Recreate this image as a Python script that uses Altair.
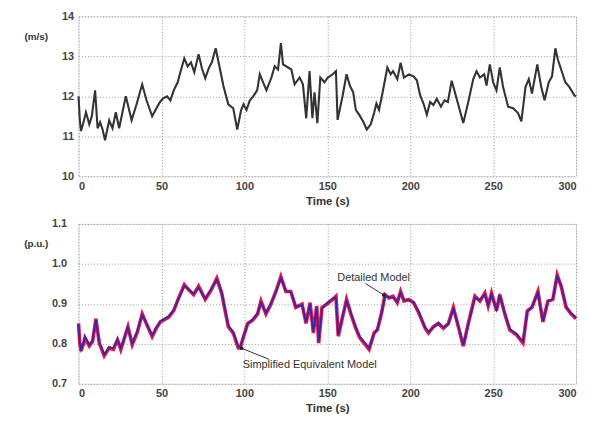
import altair as alt
import pandas as pd

# ---------------- data ----------------
wind_t = [0, 0.8, 1.5, 3, 4.5, 6.5, 8, 10, 11.5, 13, 14.5, 16, 18.5, 20.5, 22.5, 24.5, 26.5, 28.5, 30, 32,
          35, 38.4, 41, 44.4, 47, 49, 51, 53.4, 55.4, 57.4, 59.8, 61.4, 63.8, 65.8, 67.8, 69.8, 72.4, 74.4,
          76.4, 78.5, 80.4, 82.7, 84.7, 87.3, 90.3, 93.3, 95.7, 98, 99.5, 101.3, 103.3, 105.3, 107.7, 109.3,
          111.3, 113.3, 116.3, 118.3, 120.3, 122, 123.3, 125.3, 128.3, 130.3, 133.3, 135.3, 137.3, 139.3,
          141, 142.3, 144, 145.8, 148.3, 150.3, 153.3, 155.2, 156.2, 159.2, 161.6, 163.6, 165.6, 167.2,
          169.2, 171.6, 173.8, 176.2, 178.2, 179.6, 181.2, 183.6, 186.2, 188.2, 189.6, 192.2, 194.2, 196.2,
          199.2, 202, 204, 206, 208, 210, 212, 214, 216, 218.5, 220.7, 222.7, 225, 228, 232, 235, 238, 240,
          242, 244.6, 246, 248, 250, 252, 254, 256, 259, 262, 265, 267, 269.5, 271.5, 273.4, 276.6, 279,
          281, 283.5, 285.5, 287.5, 289, 291, 293.5, 296, 299, 300]
wind_v = [12.0, 11.4, 11.13, 11.35, 11.6, 11.3, 11.5, 12.15, 11.2, 11.35, 11.17, 10.9, 11.4, 11.2, 11.6, 11.2,
          11.6, 12.0, 11.75, 11.4, 11.8, 12.3, 11.9, 11.5, 11.7, 11.85, 11.95, 12.0, 11.9, 12.15, 12.35, 12.6,
          12.95, 12.75, 12.85, 12.6, 13.05, 12.7, 12.45, 12.7, 12.85, 13.2, 12.8, 12.27, 11.8, 11.7, 11.17,
          11.65, 11.8, 11.66, 11.9, 12.0, 12.15, 12.55, 12.35, 12.15, 12.47, 12.75, 12.67, 13.33, 12.8, 12.75,
          12.67, 12.3, 12.47, 12.3, 11.45, 12.63, 11.45, 12.1, 11.33, 12.47, 12.35, 12.47, 12.55, 12.63, 11.41,
          12.0, 12.55, 12.27, 12.1, 11.66, 11.54, 11.37, 11.17, 11.3, 11.58, 11.82, 11.66, 12.15, 12.72, 12.55,
          12.63, 12.43, 12.84, 12.47, 12.55, 12.5, 12.4, 12.02, 11.82, 11.54, 11.86, 11.78, 11.94, 11.74, 11.9,
          11.86, 12.39, 11.94, 11.33, 11.86, 12.43, 12.63, 12.47, 12.55, 12.27, 12.8, 12.35, 12.15, 12.72,
          12.23, 11.74, 11.7, 11.58, 11.37, 12.23, 12.43, 12.07, 12.8, 12.23, 11.9, 12.35, 12.5, 13.2, 12.92,
          12.67, 12.35, 12.23, 12.02, 12.0]

pow_t = [0, 0.8, 1.5, 3, 3.9, 6.5, 8.5, 10.5, 12.5, 15.5, 18.5, 21, 23.5, 25.5, 29.8, 32.4, 35.5, 38.4, 41.5,
         44.4, 47, 49.4, 54.4, 57.4, 60.4, 63.8, 66.4, 69.4, 72.4, 76.4, 80, 83.4, 86.3, 90.3, 93.3, 96.3, 97.5,
         99.3, 102, 105, 108, 110, 113, 116, 119, 122, 125, 128, 131, 134.8, 137.2, 139.6, 141.6, 143.6, 144.8,
         146.8, 149.6, 153.2, 155.2, 156.6, 159.2, 161.6, 164.2, 167.2, 169.6, 172.2, 175.2, 178.2, 180.2,
         182.8, 184.8, 187.2, 189.6, 192.2, 194.2, 196.2, 199.2, 202, 205, 209, 211, 214, 217, 220, 223, 226,
         229, 232, 235, 239, 242, 245, 247, 249, 252, 254, 257, 260, 264, 268, 270.6, 273.4, 277, 280, 283,
         286, 288.6, 291, 294, 297, 300]
pow_simplified = [0.851, 0.80, 0.782, 0.80, 0.815, 0.795, 0.806, 0.863, 0.802, 0.77, 0.79, 0.786, 0.81, 0.786,
                  0.843, 0.798, 0.83, 0.875, 0.845, 0.818, 0.84, 0.855, 0.867, 0.883, 0.915, 0.948, 0.935,
                  0.923, 0.944, 0.911, 0.935, 0.964, 0.927, 0.843, 0.827, 0.79, 0.79, 0.815, 0.851, 0.859,
                  0.875, 0.907, 0.875, 0.899, 0.931, 0.968, 0.931, 0.931, 0.891, 0.899, 0.851, 0.903, 0.827,
                  0.895, 0.802, 0.891, 0.899, 0.911, 0.919, 0.819, 0.867, 0.911, 0.875, 0.839, 0.815, 0.802,
                  0.786, 0.827, 0.835, 0.879, 0.923, 0.915, 0.919, 0.903, 0.931, 0.907, 0.911, 0.903, 0.879,
                  0.839, 0.827, 0.843, 0.851, 0.839, 0.851, 0.891, 0.843, 0.794, 0.851, 0.919, 0.907, 0.927,
                  0.895, 0.927, 0.883, 0.923, 0.875, 0.835, 0.823, 0.802, 0.883, 0.891, 0.931, 0.855, 0.907,
                  0.911, 0.972, 0.944, 0.891, 0.875, 0.863]
pow_detailed = [0.848, 0.803, 0.785, 0.802, 0.818, 0.797, 0.809, 0.860, 0.805, 0.773, 0.792, 0.789, 0.812, 0.789,
                0.840, 0.801, 0.832, 0.872, 0.847, 0.821, 0.842, 0.857, 0.869, 0.885, 0.913, 0.945, 0.937,
                0.925, 0.941, 0.913, 0.937, 0.961, 0.929, 0.846, 0.829, 0.793, 0.792, 0.817, 0.849, 0.861,
                0.877, 0.904, 0.877, 0.901, 0.929, 0.965, 0.933, 0.929, 0.893, 0.897, 0.854, 0.900, 0.830,
                0.892, 0.805, 0.889, 0.901, 0.913, 0.916, 0.822, 0.869, 0.908, 0.877, 0.841, 0.818, 0.805,
                0.789, 0.825, 0.837, 0.877, 0.920, 0.917, 0.916, 0.905, 0.928, 0.909, 0.909, 0.905, 0.881,
                0.841, 0.830, 0.841, 0.853, 0.841, 0.849, 0.888, 0.845, 0.797, 0.849, 0.916, 0.909, 0.924,
                0.897, 0.924, 0.885, 0.920, 0.877, 0.837, 0.825, 0.805, 0.880, 0.893, 0.928, 0.857, 0.905,
                0.913, 0.969, 0.946, 0.893, 0.877, 0.865]

x_ticks = [0, 50, 100, 150, 200, 250, 300]
wind_ticks = [10, 11, 12, 13, 14]
pow_ticks = [0.7, 0.8, 0.9, 1.0, 1.1]

ann_labels = ["Detailed Model", "Simplified Equivalent Model"]
ann_text_t = [156, 99]
ann_text_v = [0.965, 0.746]
ann_from_t = [173, 115]
ann_from_v = [0.951, 0.761]
ann_to_t = [184, 98.3]
ann_to_v = [0.922, 0.789]

FONT = "Liberation Sans"

wind_df = pd.DataFrame({"t": wind_t, "v": wind_v})
pow_df = pd.DataFrame({"t": pow_t, "simp": pow_simplified, "det": pow_detailed})
ann_df = pd.DataFrame({"label": ann_labels, "tt": ann_text_t, "tv": ann_text_v,
                       "ft": ann_from_t, "fv": ann_from_v, "et": ann_to_t, "ev": ann_to_v})


def x_axis():
    return alt.Axis(values=x_ticks, title="Time (s)", grid=True, gridDash=[1, 2], gridColor="#9a9a9a",
                    domain=False, ticks=False, labelFont=FONT, labelFontSize=11, labelFontWeight="bold",
                    labelColor="#444", labelPadding=4, titleFont=FONT, titleFontSize=11.5,
                    titleFontWeight="bold", titleColor="#333", titlePadding=4)


def y_axis(vals, title, fmt, pad):
    return alt.Axis(values=vals, title=title, format=fmt, grid=True, gridDash=[1, 2], gridColor="#9a9a9a",
                    domain=False, ticks=False, labelFont=FONT, labelFontSize=11, labelFontWeight="bold",
                    labelColor="#444", labelPadding=pad, titleFont=FONT, titleFontSize=10,
                    titleFontWeight="bold", titleColor="#333", titleAngle=0, titleAlign="center",
                    titleBaseline="middle", titleX=-43, titleY=20)


xs = alt.Scale(domain=[0, 300], nice=False)

top = alt.Chart(wind_df).mark_line(color="#333333", strokeWidth=2.1).encode(
    x=alt.X("t:Q", scale=xs, axis=x_axis()),
    y=alt.Y("v:Q", scale=alt.Scale(domain=[10, 14], nice=False), axis=y_axis(wind_ticks, "(m/s)", "d", 5)),
).properties(width=501, height=161)

ys = alt.Scale(domain=[0.7, 1.1], nice=False)
pbase = alt.Chart(pow_df)
red = pbase.mark_line(color="#e8174a", strokeWidth=3.6).encode(
    x=alt.X("t:Q", scale=xs, axis=x_axis()),
    y=alt.Y("simp:Q", scale=ys, axis=y_axis(pow_ticks, "(p.u.)", ".1f", 12)),
)
blue = pbase.mark_line(color="#3326a8", strokeWidth=1.7).encode(
    x=alt.X("t:Q", scale=xs), y=alt.Y("det:Q", scale=ys))

abase = alt.Chart(ann_df)
arrows = abase.mark_rule(color="#333", strokeWidth=1).encode(
    x=alt.X("ft:Q", scale=xs), y=alt.Y("fv:Q", scale=ys), x2="et:Q", y2="ev:Q")
tips = abase.mark_point(filled=True, color="#222", size=14, opacity=1).encode(
    x=alt.X("et:Q", scale=xs), y=alt.Y("ev:Q", scale=ys))
texts = abase.mark_text(font=FONT, fontSize=11, color="#333", align="left", baseline="middle").encode(
    x=alt.X("tt:Q", scale=xs), y=alt.Y("tv:Q", scale=ys), text="label:N")

bottom = alt.layer(red, blue, arrows, tips, texts).properties(width=501, height=161)

chart = alt.vconcat(top, bottom, spacing=48, bounds="flush").properties(
    padding={"left": 15, "top": 0, "right": 5, "bottom": 0}
).configure_view(stroke="#555555", strokeWidth=2).configure(background="white")

chart.save("out.html", embed_options={"renderer": "svg", "actions": False})
